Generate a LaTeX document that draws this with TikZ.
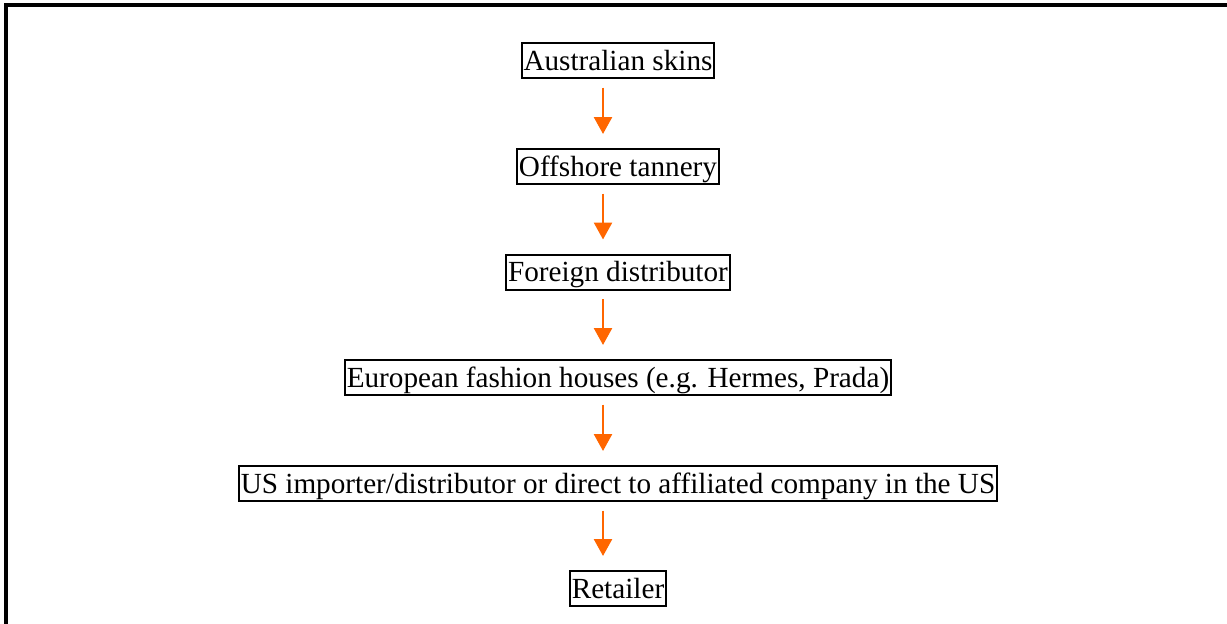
\documentclass[tikz,border=0pt]{standalone}
\usepackage{fontspec}
\setmainfont{Liberation Serif}
\usetikzlibrary{arrows.meta}
\definecolor{arrowcol}{HTML}{FF6600}
\tikzset{
  stage/.style={draw=black, line width=2pt, font=\fontsize{29.2}{33}\selectfont,
    inner xsep=2pt, inner ysep=1.5pt, text height=25.5pt, text depth=6.5pt, anchor=center},
  flow/.style={draw=arrowcol, line width=2.6pt, -{Triangle[width=18pt,length=17pt]},
    shorten <=8.5pt, shorten >=14pt},
  frame/.style={draw=black, line width=3.2pt}
}
\begin{document}
\begin{tikzpicture}[x=1pt,y=-1pt]
\useasboundingbox (0,0) rectangle (1227,624);
\coordinate (fbl) at (6,624);
\coordinate (ftl) at (6,5);
\coordinate (ftr) at (1227,5);
\draw[frame] (fbl) -- (ftl) -- (ftr);
\node[stage] (a) at (618,60.5) {Australian skins};
\node[stage] (b) at (618,166.5) {Offshore tannery};
\node[stage] (c) at (618,272) {Foreign distributor};
\node[stage] (d) at (618,377.5) {European fashion houses (e.g. Hermes, Prada)};
\node[stage] (e) at (618,483.5) {US importer/distributor or direct to affiliated company in the US};
\node[stage] (f) at (618,588.5) {Retailer};
\draw[flow] ([xshift=-15pt]a.south) -- ([xshift=-15pt]b.north);
\draw[flow] ([xshift=-15pt]b.south) -- ([xshift=-15pt]c.north);
\draw[flow] ([xshift=-15pt]c.south) -- ([xshift=-15pt]d.north);
\draw[flow] ([xshift=-15pt]d.south) -- ([xshift=-15pt]e.north);
\draw[flow] ([xshift=-15pt]e.south) -- ([xshift=-15pt]f.north);
\end{tikzpicture}
\end{document}
